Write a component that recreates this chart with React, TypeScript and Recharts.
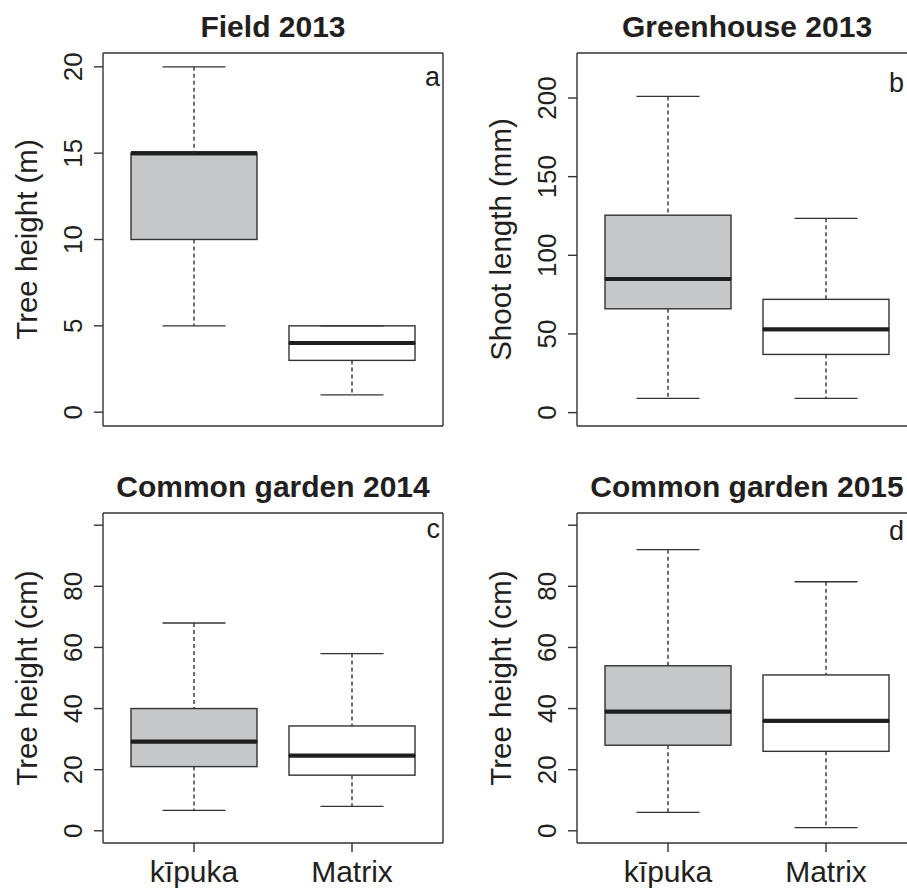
import React from "react";
import { ComposedChart, Bar, XAxis, YAxis } from "recharts";

const groups = ["kīpuka", "Matrix"];

// five-number summaries per group: [min, q1, median, q3, max]
const field2013Kipuka = [5, 10, 15, 15, 20];
const field2013Matrix = [1, 3, 4, 5, 5];
const greenhouse2013Kipuka = [9, 66, 85, 125.5, 201];
const greenhouse2013Matrix = [9, 37, 53, 72, 123.5];
const garden2014Kipuka = [6.7, 21, 29.2, 40, 68];
const garden2014Matrix = [8, 18.2, 24.6, 34.3, 58];
const garden2015Kipuka = [6, 28, 39, 54, 92];
const garden2015Matrix = [1, 26, 36, 51, 81.5];

const fieldTicks = [0, 5, 10, 15, 20];
const fieldTickLabels = ["0", "5", "10", "15", "20"];
const shootTicks = [0, 50, 100, 150, 200];
const shootTickLabels = ["0", "50", "100", "150", "200"];
const gardenTicks = [0, 20, 40, 60, 80, 100];
const gardenTickLabels = ["0", "20", "40", "60", "80", ""];

const INK = "#231f20";
const LINE = "#333333";
const FONT = "'Liberation Sans', Arial, Helvetica, sans-serif";
const FILLS = ["#c6c7c9", "#ffffff"];

function toRows(stats: number[][]) {
  return groups.map((g, i) => {
    const [min, q1, med, q3, max] = stats[i];
    return {
      group: g,
      base: min,
      lowWhisker: q1 - min,
      boxLow: med - q1,
      boxHigh: q3 - med,
      highWhisker: max - q3,
    };
  });
}

const Empty = () => <g />;

function LowWhisker(p: any) {
  const { x, y, width, height } = p;
  const cx = x + width / 2;
  const yb = y + height;
  return (
    <g>
      <line x1={cx} x2={cx} y1={y} y2={yb} stroke="#333" strokeWidth={1.4} strokeDasharray="4 3" />
      <line x1={cx - width / 4} x2={cx + width / 4} y1={yb} y2={yb} stroke={LINE} strokeWidth={1.3} />
    </g>
  );
}

function HighWhisker(p: any) {
  const { x, y, width, height } = p;
  const cx = x + width / 2;
  return (
    <g>
      <line x1={cx} x2={cx} y1={y} y2={y + height} stroke="#333" strokeWidth={1.4} strokeDasharray="4 3" />
      <line x1={cx - width / 4} x2={cx + width / 4} y1={y} y2={y} stroke={LINE} strokeWidth={1.3} />
    </g>
  );
}

function BoxLow(p: any) {
  const { x, y, width, height, index } = p;
  return (
    <g>
      <rect x={x} y={y} width={width} height={Math.max(height, 0)} fill={FILLS[index]} stroke={LINE} strokeWidth={1.4} />
      <line x1={x} x2={x + width} y1={y} y2={y} stroke="#1e1e1e" strokeWidth={4} />
    </g>
  );
}

function BoxHigh(p: any) {
  const { x, y, width, height, index } = p;
  return (
    <g>
      <rect x={x} y={y} width={width} height={Math.max(height, 0)} fill={FILLS[index]} stroke={LINE} strokeWidth={1.4} />
      <line x1={x} x2={x + width} y1={y + height} y2={y + height} stroke="#1e1e1e" strokeWidth={4} />
    </g>
  );
}

function YTick(p: any) {
  const { x, y, payload, ticks, labels } = p;
  const i = ticks.indexOf(payload.value);
  const text = i >= 0 ? labels[i] : String(payload.value);
  if (!text) return <g />;
  return (
    <text x={x} y={y} transform={`rotate(-90 ${x} ${y})`} textAnchor="middle" fontSize={26} fill={INK} fontFamily={FONT}>
      {text}
    </text>
  );
}

function XTick(p: any) {
  const { x, y, payload } = p;
  return (
    <text x={x} y={y + 28} textAnchor="middle" fontSize={30} fill={INK} fontFamily={FONT}>
      {payload.value}
    </text>
  );
}

interface PanelProps {
  left: number;
  top: number;
  width: number;
  height: number;
  plotLeft: number;
  plotTop: number;
  plotHeight: number;
  title: string;
  letter: string;
  letterDx: number;
  letterDy: number;
  yLabel: string;
  stats: number[][];
  domain: [number, number];
  ticks: number[];
  tickLabels: string[];
  showX: boolean;
}

function Panel(props: PanelProps) {
  const { width, height, plotLeft, plotTop, plotHeight, title, letter, letterDx, letterDy, yLabel, stats, domain, ticks, tickLabels, showX } = props;
  const plotWidth = 340;
  const data = toRows(stats);
  const frame = { stroke: LINE, strokeWidth: 1.4 };
  return (
    <ComposedChart
      width={width}
      height={height}
      data={data}
      barSize={126}
      margin={{
        top: plotTop - 1,
        left: 0,
        right: width - plotLeft - plotWidth - 1,
        bottom: height - plotTop - plotHeight - 1,
      }}
    >
      <XAxis
        dataKey="group"
        type="category"
        height={1}
        padding={{ left: 12, right: 12 }}
        axisLine={frame}
        tickLine={showX ? frame : false}
        tickSize={9}
        tickMargin={2}
        tick={showX ? <XTick /> : false}
        interval={0}
      />
      <XAxis
        xAxisId="top"
        dataKey="group"
        type="category"
        orientation="top"
        height={1}
        axisLine={frame}
        tickLine={false}
        tick={false}
        label={{
          content: (lp: any) => {
            const vb = lp.viewBox || {};
            return (
              <text
                x={vb.x + vb.width / 2}
                y={vb.y + (vb.height || 0) - 16.3}
                textAnchor="middle"
                fontSize={30}
                fontWeight="bold"
                fill={INK}
                fontFamily={FONT}
              >
                {title}
              </text>
            );
          },
        }}
      />
      <YAxis
        type="number"
        domain={domain}
        ticks={ticks}
        interval={0}
        allowDataOverflow
        width={plotLeft}
        tickSize={9}
        tickMargin={12}
        axisLine={frame}
        tickLine={frame}
        tick={<YTick ticks={ticks} labels={tickLabels} />}
        label={{
          content: (lp: any) => {
            const vb = lp.viewBox || {};
            const x = vb.x + vb.width - 66;
            const y = vb.y + vb.height / 2;
            return (
              <text x={x} y={y} transform={`rotate(-90 ${x} ${y})`} textAnchor="middle" fontSize={29.5} fill={INK} fontFamily={FONT}>
                {yLabel}
              </text>
            );
          },
        }}
      />
      <YAxis
        yAxisId="right"
        orientation="right"
        type="number"
        domain={domain}
        allowDataOverflow
        width={1}
        axisLine={frame}
        tickLine={false}
        tick={false}
        label={{
          content: (lp: any) => {
            const vb = lp.viewBox || {};
            return (
              <text x={vb.x - letterDx} y={vb.y + letterDy} textAnchor="end" fontSize={27} fill={INK} fontFamily={FONT}>
                {letter}
              </text>
            );
          },
        }}
      />
      <Bar dataKey="base" stackId="s" fill="none" shape={<Empty />} isAnimationActive={false} />
      <Bar dataKey="lowWhisker" stackId="s" shape={<LowWhisker />} isAnimationActive={false} />
      <Bar dataKey="boxLow" stackId="s" shape={<BoxLow />} isAnimationActive={false} />
      <Bar dataKey="boxHigh" stackId="s" shape={<BoxHigh />} isAnimationActive={false} />
      <Bar dataKey="highWhisker" stackId="s" shape={<HighWhisker />} isAnimationActive={false} />
    </ComposedChart>
  );
}

const panels: PanelProps[] = [
  {
    left: 0, top: 0, width: 454, height: 440, plotLeft: 103, plotTop: 53, plotHeight: 373,
    title: "Field 2013", letter: "a", letterDx: 3, letterDy: 33, yLabel: "Tree height (m)",
    stats: [field2013Kipuka, field2013Matrix], domain: [-0.8, 20.8],
    ticks: fieldTicks, tickLabels: fieldTickLabels, showX: false,
  },
  {
    left: 454, top: 0, width: 475, height: 440, plotLeft: 123, plotTop: 53, plotHeight: 373,
    title: "Greenhouse 2013", letter: "b", letterDx: 13, letterDy: 39, yLabel: "Shoot length (mm)",
    stats: [greenhouse2013Kipuka, greenhouse2013Matrix], domain: [-8.5, 228.6],
    ticks: shootTicks, tickLabels: shootTickLabels, showX: false,
  },
  {
    left: 0, top: 440, width: 454, height: 448, plotLeft: 103, plotTop: 73, plotHeight: 330,
    title: "Common garden 2014", letter: "c", letterDx: 3, letterDy: 25, yLabel: "Tree height (cm)",
    stats: [garden2014Kipuka, garden2014Matrix], domain: [-4, 104],
    ticks: gardenTicks, tickLabels: gardenTickLabels, showX: true,
  },
  {
    left: 454, top: 440, width: 475, height: 448, plotLeft: 123, plotTop: 73, plotHeight: 330,
    title: "Common garden 2015", letter: "d", letterDx: 13, letterDy: 27, yLabel: "Tree height (cm)",
    stats: [garden2015Kipuka, garden2015Matrix], domain: [-4, 104],
    ticks: gardenTicks, tickLabels: gardenTickLabels, showX: true,
  },
];

export default function App() {
  return (
    <div
      style={{
        position: "absolute",
        left: 0,
        top: 0,
        width: 907,
        height: 888,
        overflow: "hidden",
        background: "#ffffff",
        fontFamily: FONT,
      }}
    >
      {panels.map((p) => (
        <div key={p.title} style={{ position: "absolute", left: p.left, top: p.top }}>
          <Panel {...p} />
        </div>
      ))}
    </div>
  );
}
